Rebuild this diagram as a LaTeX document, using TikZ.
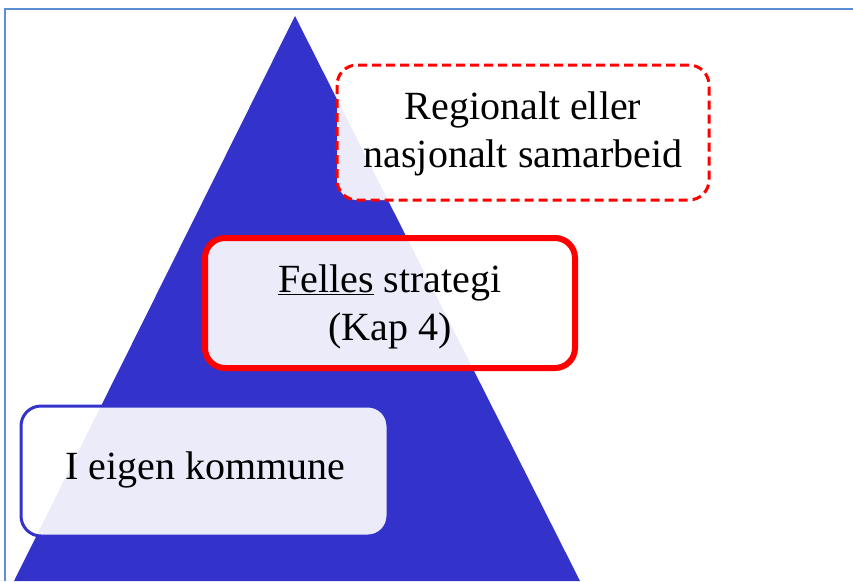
\documentclass[tikz,border=0pt]{standalone}
\usepackage{fontspec}
\setmainfont{Liberation Serif}
\definecolor{tri}{HTML}{3333CC}
\definecolor{frame}{HTML}{5B8ED3}
\begin{document}
\begin{tikzpicture}[x=1pt,y=-1pt,
  lbl/.style={font=\fontsize{40}{48}\selectfont, align=center, text=black},
  box/.style={rounded corners=20pt, fill=white, fill opacity=0.9}]
\useasboundingbox (0,0) rectangle (853,581);
\fill[white] (0,0) rectangle (853,581);
\draw[frame, line width=2pt] (5,581) -- (5,9) -- (853,9);
\fill[tri] (295,16) -- (580,581) -- (14,581) -- cycle;
\draw[box, draw=red, line width=3pt, dash pattern=on 9pt off 5pt] (337,65) rectangle (709,200);
\node[lbl] (reg) at (523,134) {Regionalt eller\\nasjonalt samarbeid};
\draw[box, draw=red, line width=6pt] (205,238) rectangle (575,368);
\node[lbl] (fel) at (390,307) {\underline{Felles} strategi\\(Kap 4)};
\draw[box, draw=tri, line width=3pt] (21,406) rectangle (388,536);
\node[lbl] (eig) at (205,470) {I eigen kommune};
\end{tikzpicture}
\end{document}
